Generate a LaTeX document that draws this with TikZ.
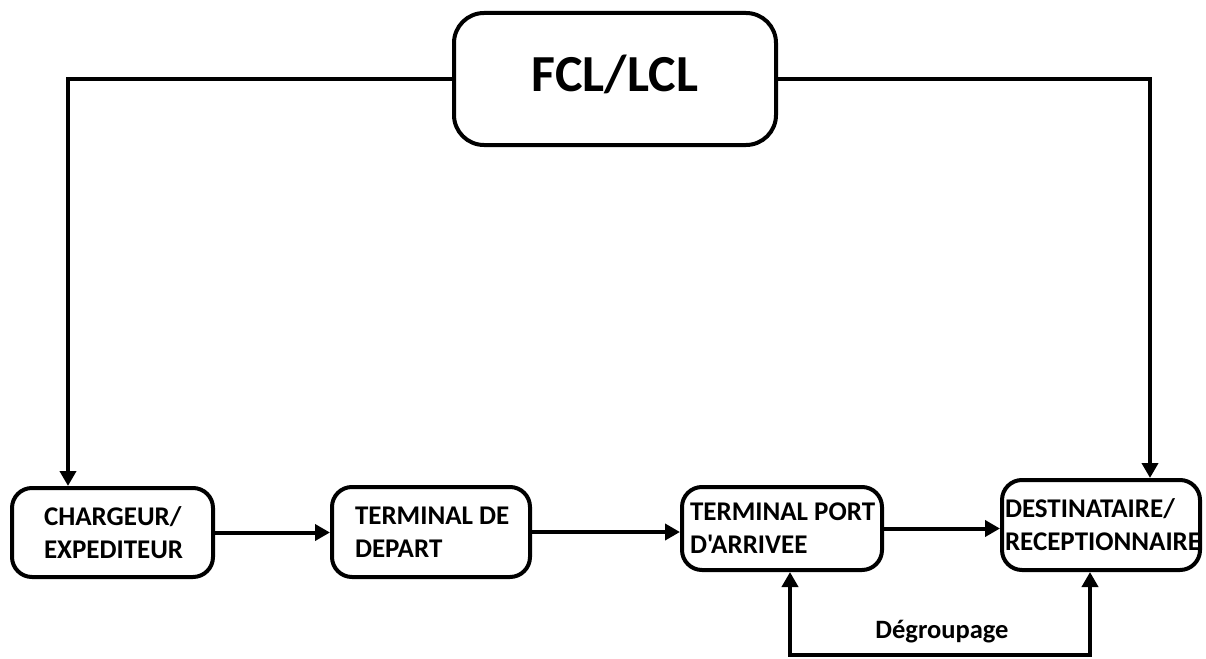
\documentclass[tikz,border=0pt]{standalone}
\usepackage{fontspec}
\setmainfont{Carlito}[Ligatures=TeXOff]
\usetikzlibrary{arrows.meta}

\tikzset{
  box/.style={draw, line width=4pt, rounded corners=20pt, inner ysep=0pt,
    align=flush left, font=\fontsize{27}{33}\selectfont\bfseries},
  flow/.style={line width=4pt, -{Triangle[length=15pt,width=16pt]}},
  flow2/.style={line width=4pt, {Triangle[length=15pt,width=16pt]}-{Triangle[length=15pt,width=16pt]}},
}

\begin{document}
\begin{tikzpicture}[x=1pt, y=-1pt]
  \useasboundingbox (0,0) rectangle (1206,658);

  % header box
  \node[draw, line width=4pt, rounded corners=30pt, minimum width=322pt,
        minimum height=132pt, font=\fontsize{52}{60}\selectfont\bfseries]
        (fcl) at (615,79) {\raisebox{11pt}{FCL/LCL}};

  % process boxes
  \node[box, text width=137pt, inner xsep=32pt, minimum height=89pt]
        (charg) at (112.5,532.5) {\mbox{CHARGEUR/}\\\mbox{EXPEDITEUR}};
  \node[box, text width=152pt, inner xsep=23pt, minimum height=90pt]
        (tdep) at (431,532) {\mbox{TERMINAL DE}\\\mbox{DEPART}};
  \node[box, text width=184pt, inner xsep=8pt, minimum height=83pt]
        (tport) at (782,528.5) {\mbox{TERMINAL PORT}\\\mbox{D'ARRIVEE}};
  \node[box, text width=192pt, inner xsep=3pt, minimum height=90pt]
        (dest) at (1101,525) {\mbox{DESTINATAIRE/}\\\mbox{RECEPTIONNAIRE}};

  % routing points
  \coordinate (c1) at (68,0);
  \coordinate (c2) at (1150,0);
  \coordinate (d1) at (790,655);
  \coordinate (d2) at (1090,655);

  % header to both ends of the chain
  \draw[flow] (fcl.west) -| (c1 |- charg.north);
  \draw[flow] (fcl.east) -| (c2 |- dest.north);

  % main chain
  \draw[flow] (charg.east) -- (charg.east -| tdep.west);
  \draw[flow] (tdep.east) -- (tdep.east -| tport.west);
  \draw[flow] (tport.east) -- (tport.east -| dest.west);

  % unpacking loop
  \draw[flow2] (d1 |- tport.south) -- (d1) -- (d2) -- (d2 |- dest.south);
  \node[font=\fontsize{26.5}{30}\selectfont\bfseries] (deg) at (942,632) {Dégroupage};
\end{tikzpicture}
\end{document}
